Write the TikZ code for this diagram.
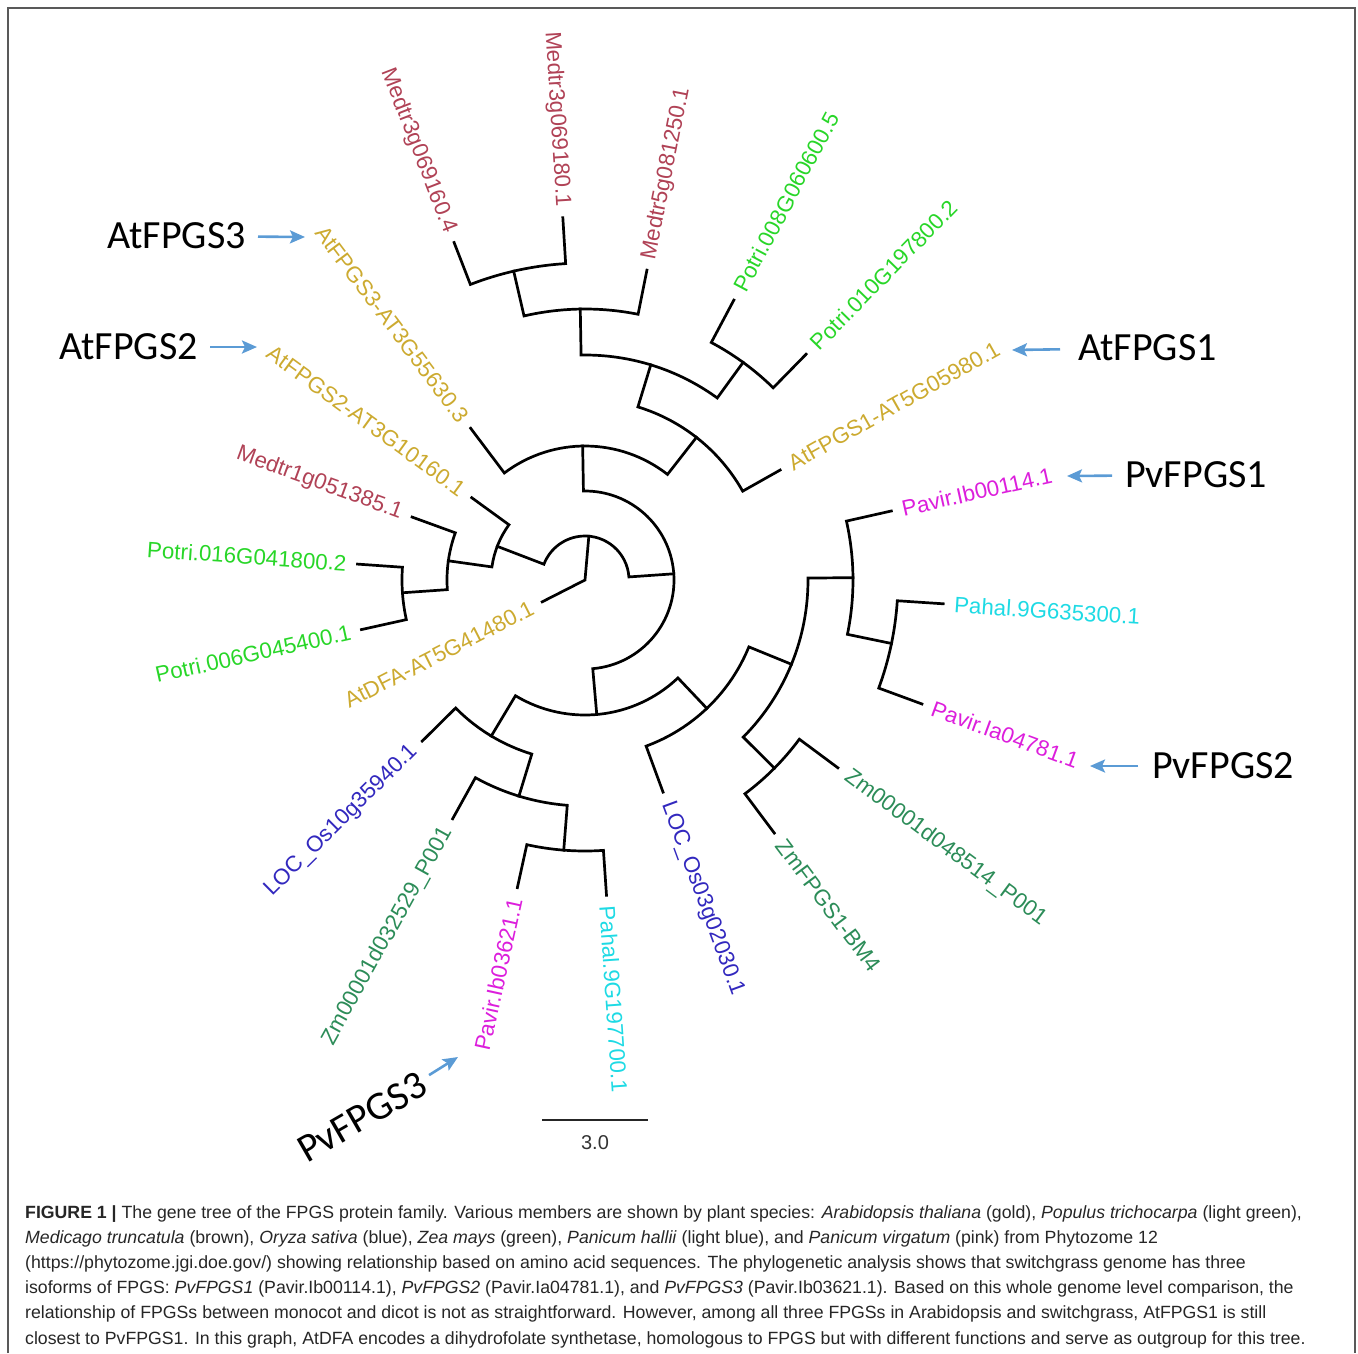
\documentclass[tikz,border=0pt]{standalone}
\usepackage{fontspec}
\setmainfont{Liberation Sans}
\newfontfamily\calib{Carlito}
\usetikzlibrary{arrows.meta}
\definecolor{atgold}{RGB}{204,170,48}
\definecolor{mtbrown}{RGB}{176,66,86}
\definecolor{ptgreen}{RGB}{40,214,40}
\definecolor{osblue}{RGB}{50,40,190}
\definecolor{zmgreen}{RGB}{44,140,88}
\definecolor{phcyan}{RGB}{30,218,228}
\definecolor{pvpink}{RGB}{220,30,220}
\definecolor{pointblue}{RGB}{91,155,213}
\tikzstyle{branch}=[line width=2.7pt, line join=miter, line cap=rect]
\tikzstyle{leaf}=[font=\fontsize{22.3}{22.3}\selectfont, inner sep=0pt]
\tikzstyle{biglabel}=[font=\calib\fontsize{40}{40}\selectfont, inner sep=0pt]
\tikzstyle{pointer}=[pointblue, line width=2.6pt, -{Stealth[length=15pt,width=13pt,inset=3pt]}]
\tikzstyle{caption}=[font=\fontsize{17.7}{25.2}\selectfont, align=left, inner sep=0pt, text=black!85]

\begin{document}
\begin{tikzpicture}[x=1pt,y=1pt]
\useasboundingbox (0,0) rectangle (1358,-1353);
\draw[black!65, line width=1.5pt] (8,-1353) -- (8,-8) -- (1355,-8) -- (1355,-1353);

\begin{scope}[shift={(585,-580)}]
\draw[branch] (207:48pt) -- (0,0) -- (85:44pt);
\foreach \r/\a/\ra/\b/\rb in {
  44/4/89/159/94, 94/144/140/172/138, 138/160/184/184/183, 183/176/228/192.5/229,
  89/-85/135/91/134, 134/52/181/127/190, 181/29.4/224/73/225, 225/54/269/91/271,
  271/78.7/316/103/317, 317/93.5/363/111.2/362, 269/45.6/316/62/317,
  135/-121/182/-46.5/177, 182/-135.3/229/-107/226, 226/-119/273/-94.5/271,
  271/-102.4/315/-86.1/316, 177/-69.8/226/-22.2/223, 223/-44.8/267/0.5/268,
  268/-11.7/313/12.7/314, 313/-20.2/359/-3.8/359, 267/-53.2/316/-36.6/315}
  \draw[branch] (\a:\ra pt) -- (\a:\r pt) arc[start angle=\a, end angle=\b, radius=\r pt] -- (\b:\rb pt);

\foreach \a/\r/\col/\nm/\txt [evaluate=\r as \rl using \r+11] in {
  12.7/314/pvpink/pvIbA/Pavir.Ib00114.1, -3.8/359/phcyan/phA/Pahal.9G635300.1,
  -20.2/359/pvpink/pvIa/Pavir.Ia04781.1, -36.6/315/zmgreen/zmA/Zm00001d048514\_P001,
  -53.2/316/zmgreen/zmB/ZmFPGS1-BM4, -69.8/226/osblue/osA/LOC\_Os03g02030.1,
  -86.1/316/phcyan/phB/Pahal.9G197700.1, 29.4/224/atgold/atA/AtFPGS1-AT5G05980.1,
  45.6/316/ptgreen/ptA/Potri.010G197800.2, 62/317/ptgreen/ptB/Potri.008G060600.5,
  78.7/316/mtbrown/mtA/Medtr5g081250.1}
  \node[leaf, text=\col, anchor=west, rotate=\a] (\nm) at (\a:\rl pt) {\txt};

\foreach \a/\r/\col/\nm/\txt [evaluate=\r as \rl using \r+11, evaluate=\a as \ar using \a+180] in {
  93.5/363/mtbrown/mtB/Medtr3g069180.1, 111.2/362/mtbrown/mtC/Medtr3g069160.4,
  127/190/atgold/atC/AtFPGS3-AT3G55630.3, 144/140/atgold/atB/AtFPGS2-AT3G10160.1,
  160/184/mtbrown/mtD/Medtr1g051385.1, 176/228/ptgreen/ptC/Potri.016G041800.2,
  192.5/229/ptgreen/ptD/Potri.006G045400.1, 207/48/atgold/atD/AtDFA-AT5G41480.1,
  224.7/229/osblue/osB/LOC\_Os10g35940.1, 241/273/zmgreen/zmC/Zm00001d032529\_P001,
  257.6/315/pvpink/pvIbB/Pavir.Ib03621.1}
  \node[leaf, text=\col, anchor=east, rotate=\ar] (\nm) at (\a:\rl pt) {\txt};
\end{scope}

\node[biglabel, anchor=east] (atfpgs3) at (246,-236) {AtFPGS3};
\node[biglabel, anchor=east] (atfpgs2) at (198,-347) {AtFPGS2};
\node[biglabel, anchor=west] (atfpgs1) at (1078,-348) {AtFPGS1};
\node[biglabel, anchor=west] (pvfpgs1) at (1125,-475) {PvFPGS1};
\node[biglabel, anchor=west] (pvfpgs2) at (1152,-766) {PvFPGS2};
\node[biglabel, rotate=30] (pvfpgs3) at (362,-1117) {PvFPGS3};
\coordinate (tip3) at (305,-237);
\coordinate (tip2) at (257,-347);
\coordinate (tip1) at (1012,-350);
\coordinate (tip4) at (1067,-476);
\coordinate (tip5) at (1090,-766);
\coordinate (tip6) at (458,-1057);
\draw[pointer, shorten <=12pt] (atfpgs3) -- (tip3);
\draw[pointer, shorten <=12pt] (atfpgs2) -- (tip2);
\draw[pointer, shorten <=18pt] (atfpgs1) -- (tip1);
\draw[pointer, shorten <=13pt] (pvfpgs1) -- (tip4);
\draw[pointer, shorten <=14pt] (pvfpgs2) -- (tip5);
\draw[pointer, shorten <=8pt] (pvfpgs3) -- (tip6);

\coordinate (barL) at (542,-1120);
\coordinate (barR) at (648,-1120);
\draw[line width=2pt, black!85] (barL) -- (barR) node[midway, below=15pt, inner sep=0pt, font=\fontsize{20}{20}\selectfont, text=black!80] (barlab) {3.0};

\node[caption, anchor=north west] (cap) at (25,-1205) {%
\textbf{FIGURE 1 |} The gene tree of the FPGS protein family. Various members are shown by plant species: \textit{Arabidopsis thaliana} (gold), \textit{Populus trichocarpa} (light green),\\
\textit{Medicago truncatula} (brown), \textit{Oryza sativa} (blue), \textit{Zea mays} (green), \textit{Panicum hallii} (light blue), and \textit{Panicum virgatum} (pink) from Phytozome 12\\
(https://phytozome.jgi.doe.gov/) showing relationship based on amino acid sequences. The phylogenetic analysis shows that switchgrass genome has three\\
isoforms of FPGS: \textit{PvFPGS1} (Pavir.Ib00114.1), \textit{PvFPGS2} (Pavir.Ia04781.1), and \textit{PvFPGS3} (Pavir.Ib03621.1). Based on this whole genome level comparison, the\\
relationship of FPGSs between monocot and dicot is not as straightforward. However, among all three FPGSs in Arabidopsis and switchgrass, AtFPGS1 is still\\
closest to PvFPGS1. In this graph, AtDFA encodes a dihydrofolate synthetase, homologous to FPGS but with different functions and serve as outgroup for this tree.};
\end{tikzpicture}
\end{document}
